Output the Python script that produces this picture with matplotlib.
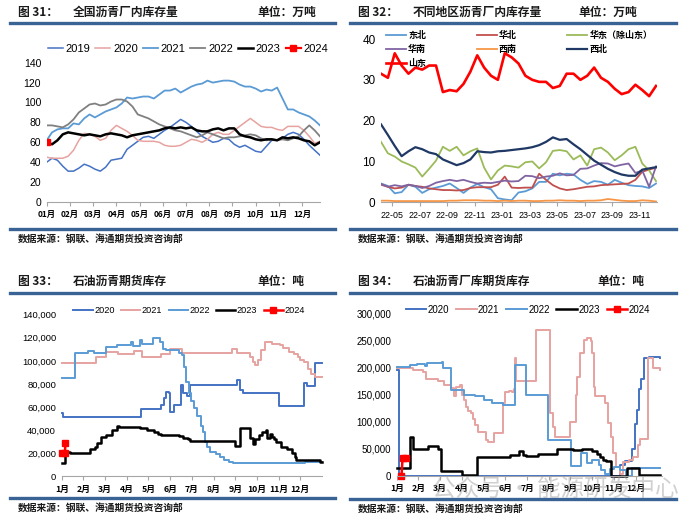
import numpy as np
import matplotlib
matplotlib.use("Agg")
import matplotlib.pyplot as plt
from matplotlib.lines import Line2D
from matplotlib.ticker import FuncFormatter

plt.rcParams['font.family'] = ['Liberation Sans', 'Noto Sans CJK SC']
CJK = ['Noto Sans CJK SC', 'DejaVu Sans']

# ---------------- data ----------------
# fig 31: national plant inventory, 10k t, weekly
months_31 = ['01月', '02月', '03月', '04月', '05月', '06月', '07月', '08月', '09月', '10月', '11月', '12月']
inv_2019 = [40, 44, 42, 36, 31, 31, 34, 38, 36, 33, 31, 35, 42, 43, 44, 53, 57, 61, 65, 66, 64, 68,
            72, 75, 79, 83, 80, 76, 71, 66, 63, 60, 61, 64, 63, 58, 55, 57, 54, 51, 50, 56, 62, 62,
            64, 68, 70, 68, 63, 57, 52, 47]
inv_2020 = [45, 44, 44, 44, 46, 52, 62, 69, 68, 66, 62, 64, 72, 77, 74, 71, 67, 62, 61, 61, 61, 60,
            57, 56, 56, 57, 60, 63, 62, 60, 63, 68, 70, 68, 68, 72, 76, 80, 84, 80, 76, 75, 75, 73,
            72, 76, 76, 76, 72, 66, 59, 61]
inv_2021 = [62, 70, 73, 74, 74, 79, 78, 84, 88, 85, 88, 91, 93, 95, 99, 105, 104, 105, 106, 106, 104, 108,
            112, 112, 114, 110, 113, 116, 118, 119, 122, 120, 121, 122, 122, 121, 118, 116, 116, 114,
            111, 113, 112, 115, 104, 93, 93, 90, 88, 86, 82, 77]
inv_2022 = [77, 77, 76, 75, 78, 83, 90, 94, 98, 99, 97, 98, 101, 103, 103, 101, 96, 88, 86, 84, 81, 78,
            76, 74, 72, 71, 69, 67, 65, 67, 70, 68, 66, 64, 65, 65, 66, 67, 68, 67, 64, 62, 63, 62,
            63, 62, 64, 66, 72, 77, 72, 66]
inv_2023 = [60, 58, 62, 68, 70, 69, 68, 67, 68, 67, 66, 68, 69, 68, 67, 65, 67, 68, 69, 70, 71, 72,
            74, 75, 74, 75, 74, 75, 72, 71, 71, 73, 74, 72, 74, 74, 68, 66, 65, 63, 62, 63, 63, 62,
            65, 64, 65, 64, 62, 61, 57, 60]
inv_2024 = [60]

# fig 32: regional plant inventory, 10k t, half-month steps from 2022-05
dates_32 = ['22-05', '22-07', '22-09', '22-11', '23-01', '23-03', '23-05', '23-07', '23-09', '23-11']
dongbei = [4.6, 4, 2.2, 2.5, 4.3, 3.8, 2.3, 3.2, 3.6, 4, 4.6, 3.5, 2.3, 3.6, 4.5, 3.7, 3.2, 1, 0.7, 0.5,
           2.4, 2.7, 3.4, 5, 5, 7, 6.6, 7, 6.8, 5.5, 4.5, 5.2, 5, 4.3, 5.5, 4.8, 4.2, 4, 3.9, 3.5, 4.6]
huabei = [4.3, 3.8, 3.4, 3.6, 4.3, 4, 3.8, 3.4, 3.2, 3, 3, 2.9, 3, 3.5, 3.7, 3.7, 3.7, 4.3, 6.3, 3.6,
          3.5, 3.6, 3.6, 7, 5.5, 4.2, 3.4, 3, 3.2, 3.5, 3.8, 3.9, 4.2, 4.3, 4.4, 4.5, 4.6, 5.5, 7.5, 8, 8.5]
huadong = [14.8, 12, 11.2, 10, 9.3, 8.5, 6.3, 8.2, 10.2, 13.6, 12.6, 13.6, 11.5, 12.5, 13.2, 8.5, 5.6,
           7.8, 9, 8.8, 8.5, 9.8, 10, 8.3, 9.8, 12.6, 12.8, 12.5, 10.5, 11.5, 9, 13, 13.4, 12.2, 10.3,
           11.5, 13, 13.6, 9.5, 7.8, 5.2]
huanan = [4.5, 3.8, 4.2, 3.9, 4.3, 4, 3.5, 4, 4.8, 5.2, 5.5, 5.2, 5.5, 5, 4.6, 4.8, 4.7, 5, 5.3, 5.1,
          5.2, 6.5, 6.4, 5.9, 6.3, 6.5, 7.1, 6.6, 6.7, 8.2, 8.3, 9, 9.6, 9.5, 8.8, 9.2, 9.5, 7.2, 7.8, 3.8, 8.8]
xinan = [0.4, 0.4, 0.3, 0.3, 0.3, 0.3, 0.3, 0.3, 0.3, 0.3, 0.4, 0.4, 0.5, 0.5, 0.5, 0.4, 0.4, 0.3, 0.4,
         0.3, 0.4, 0.4, 0.3, 0.3, 0.4, 0.4, 0.5, 0.4, 0.4, 0.3, 0.4, 0.4, 0.5, 0.8, 0.6, 0.4, 0.3, 0.3,
         0.5, 0.4, 0.2]
xibei = [19.1, 16.5, 13.8, 11.3, 12.5, 13.5, 13, 12.2, 11.8, 10.5, 9.8, 9.1, 9.6, 10.5, 12.5, 12.3, 12.2,
         12.5, 12.6, 12.8, 13, 13.2, 13.5, 14, 14.8, 15.9, 15.3, 15.5, 14.2, 13, 11.6, 10.2, 9.2, 8.2,
         7.4, 6.8, 6.5, 6.5, 8, 8.3, 8.6]
shandong = [31.5, 30.5, 36.5, 33.5, 31.5, 33, 32.5, 33.5, 33.5, 27, 27.5, 27.2, 29, 32, 36, 33, 31, 30,
            36.5, 35.5, 34, 31, 30, 29.5, 29.5, 28, 28.5, 31.5, 31.5, 30, 31, 33, 30.5, 29.5, 27.8, 26.5,
            27, 28.8, 27.5, 26, 28.5]

# fig 33 / 34: futures stocks, thousand t, (month, value) change points
months_cn = ['1月', '2月', '3月', '4月', '5月', '6月', '7月', '8月', '9月', '10月', '11月', '12月']
fut_2020 = [(0, 55), (0.05, 51.5), (3.67, 58), (4.57, 62), (4.7, 68), (4.8, 73), (4.95, 72), (5.0, 56),
            (5.2, 62), (5.5, 79), (5.6, 72), (5.78, 70), (5.9, 79), (8.1, 83), (8.2, 75), (8.35, 72),
            (10.0, 61), (11.15, 81), (11.3, 78), (11.7, 98.4), (12.0, 98.4)]
fut_2021 = [(0, 98.4), (1.57, 103.5), (2.03, 107.5), (2.6, 106), (3.35, 108.5), (3.7, 103), (4.57, 106),
            (5.0, 110), (5.55, 106.6), (7.83, 110), (8.07, 106.6), (8.68, 103), (8.8, 99), (8.9, 96.4),
            (9.05, 101), (9.2, 109), (9.37, 116.6), (9.7, 115), (10.06, 114), (10.2, 111), (10.5, 108),
            (10.7, 106), (10.9, 103.6), (11.0, 101), (11.15, 99.2), (11.36, 93), (11.5, 89), (11.67, 86),
            (12.0, 86)]
fut_2022 = [(0, 85.4), (0.62, 106.6), (1.23, 108.5), (1.5, 106.6), (2.03, 112.3), (2.57, 114), (3.2, 116),
            (3.3, 113), (3.6, 118), (3.7, 115), (4.2, 120), (4.55, 116), (4.65, 110), (4.8, 109), (5.4, 107),
            (5.55, 105), (5.65, 95), (5.75, 82), (5.85, 72), (5.95, 65), (6.1, 59), (6.25, 52), (6.4, 44),
            (6.5, 38), (6.6, 30), (6.7, 25), (6.85, 21), (7.1, 19), (7.3, 16.5), (7.5, 14), (7.7, 12.5),
            (7.9, 11.3), (11.2, 12), (12.0, 12)]
fut_2023 = [(0, 11.2), (0.15, 21.3), (0.4, 20.5), (1.3, 23.4), (1.55, 25.6), (1.65, 29), (1.8, 33.8),
            (2.05, 36), (2.3, 40), (2.55, 43.6), (2.65, 42.5), (3.6, 42), (3.76, 41.5), (3.95, 40.5),
            (4.1, 40), (4.25, 38.5), (4.45, 36.5), (4.6, 35.8), (5.4, 35), (5.6, 33.5), (5.8, 32.5),
            (5.9, 31), (8.0, 26.2), (8.2, 41.6), (8.68, 32.9), (8.83, 28.4), (8.9, 32), (9.1, 35.8),
            (9.25, 38.7), (9.4, 40), (9.45, 32.9), (9.6, 36.5), (9.7, 34), (9.8, 32), (9.9, 30), (10.1, 25.6),
            (10.4, 24), (10.6, 20), (10.75, 16.5), (10.82, 14.2), (11.9, 12.7), (12.0, 12.7)]
fut_2024 = [(0, 20.3), (0.15, 20.3), (0.17, 29)]

plant_2020 = [(0, 197), (0.1, 0), (10.3, 20), (10.5, 28), (10.85, 50), (10.95, 95), (11.05, 122),
              (11.15, 160), (11.25, 180), (11.4, 218), (11.6, 221), (12.1, 218)]
plant_2021 = [(0, 199), (0.75, 196), (1.2, 193), (1.35, 179), (1.9, 176), (2.2, 168), (2.5, 163),
              (2.62, 147), (2.72, 165), (2.9, 168), (3.0, 150), (3.1, 140), (3.2, 128), (3.3, 120),
              (3.4, 116), (3.5, 105), (3.6, 94), (3.75, 82), (4.1, 66), (4.2, 62), (4.5, 80), (4.88, 134),
              (5.0, 155), (5.15, 158), (5.3, 155), (5.4, 160), (5.45, 218), (5.5, 175), (6.42, 270),
              (7.06, 116), (7.2, 90), (7.3, 72), (8.0, 100), (8.25, 150), (8.3, 184), (8.45, 227),
              (8.6, 252), (8.75, 255), (8.95, 250), (9.0, 227), (9.1, 165), (9.15, 147), (9.6, 134),
              (9.75, 97), (9.85, 72), (9.95, 41.6), (10.1, 16.7), (10.3, 4), (10.4, 25), (10.7, 28.6),
              (10.9, 35), (11.1, 57), (11.2, 68), (11.58, 218), (11.8, 200), (12.1, 197)]
plant_2022 = [(0, 202), (0.6, 205), (0.92, 207), (1.3, 203), (1.4, 209), (2.1, 211), (2.15, 199),
              (2.5, 159), (3.08, 150), (3.6, 147), (4.0, 140), (4.4, 135), (4.9, 131), (5.45, 205),
              (5.95, 150), (6.95, 66), (8.02, 18.6), (8.5, 41.5), (8.75, 23), (9.0, 30), (9.3, 20),
              (9.4, 10), (9.6, 4), (9.8, 13), (10.0, 16.7), (10.3, 10), (10.55, 0), (10.85, 13.7),
              (12.1, 13.7)]
plant_2023 = [(0, 14), (0.62, 72), (0.77, 50), (1.46, 55), (1.92, 50), (2.03, 8), (3.0, 2), (3.7, 34),
              (5.2, 38), (5.65, 45), (5.8, 38), (5.95, 36), (6.5, 40), (7.4, 50), (8.1, 48), (8.55, 50),
              (9.0, 45), (9.2, 40), (9.35, 35), (9.5, 30), (9.65, 28), (9.85, 0), (10.6, 15), (11.15, 2),
              (12.1, 2)]
plant_2024 = [(0.22, 0), (0.27, 32), (0.45, 32)]

# ---------------- layout helpers ----------------
W, H = 700, 528
fig = plt.figure(figsize=(7, 5.28), dpi=100)
BAR = '#3A6395'


def px_axes(x0, y0, x1, y1):
    return fig.add_axes([x0 / W, 1 - y1 / H, (x1 - x0) / W, (y1 - y0) / H])


def hline(x0, x1, y, lw=2.4):
    fig.add_artist(Line2D([x0 / W, x1 / W], [1 - y / H, 1 - y / H], color=BAR, lw=lw))


def ftext(x, y, s, size=8.5, weight='bold', **kw):
    fig.text(x / W, 1 - y / H, s, va='center', family=CJK, fontsize=size, weight=weight,
             color='#1a1a1a', **kw)


def header(x, y, num, title, unit, ux, bar_y, foot_y, x1):
    ftext(x, y, '图 ' + num + '：')
    ftext(x + 55, y, title)
    ftext(ux, y, unit)
    hline(x - 8, x1, bar_y)
    hline(x - 8, x1, foot_y)
    ftext(x, foot_y + 9.5, '数据来源：钢联、海通期货投资咨询部', size=7)


def style(ax):
    for s in ['top', 'right', 'left']:
        ax.spines[s].set_visible(False)
    ax.spines['bottom'].set_color('#A6A6A6')
    ax.tick_params(axis='y', length=0, pad=4)
    ax.tick_params(axis='x', length=3, color='#A6A6A6', pad=3)


def steps(ax, series, **kw):
    xs = [p[0] for p in series]
    ys = [p[1] for p in series]
    ax.step(xs, ys, where='post', clip_on=False, **kw)


header(18, 12.7, '31', '全国沥青厂内库存量', '单位：万吨', 257, 22.7, 229, 335)
header(358, 12.7, '32', '不同地区沥青厂内库存量', '单位：万吨', 578, 22.7, 229, 676)
header(18, 281, '33', '石油沥青期货库存', '单位：吨', 257, 293.3, 498, 335)
header(358, 281, '34', '石油沥青厂库期货库存', '单位：吨', 597, 293.3, 499, 676)

# ---------------- fig 31 ----------------
ax1 = px_axes(46.7, 62.7, 320, 202)
weeks = np.arange(52)
ax1.plot(weeks, inv_2019, color='#4472C4', lw=1.1, label='2019')
ax1.plot(weeks, inv_2020, color='#E6A3A0', lw=1.1, label='2020')
ax1.plot(weeks, inv_2021, color='#5B9BD5', lw=1.3, label='2021')
ax1.plot(weeks, inv_2022, color='#808080', lw=1.3, label='2022')
ax1.plot(weeks, inv_2023, color='black', lw=1.8, label='2023')
ax1.plot(weeks[:1], inv_2024, color='red', lw=1.6, marker='s', ms=4, label='2024')
ax1.set_xlim(0, 51)
ax1.set_ylim(0, 140)
ax1.set_yticks(range(0, 141, 20))
ax1.set_xticks(np.arange(12) * 52 / 12)
ax1.set_xticklabels(months_31, family=CJK, fontsize=6, weight='bold')
ax1.tick_params(axis='y', labelsize=7.5)
style(ax1)
ax1.legend(loc='center', bbox_to_anchor=(188 / W, 1 - 49 / H), bbox_transform=fig.transFigure,
           ncol=6, frameon=False, fontsize=8, handlelength=1.35, handletextpad=0.25,
           columnspacing=0.45, borderpad=0)

# ---------------- fig 32 ----------------
ax2 = px_axes(381, 39, 656.7, 202.3)
t = np.arange(41) * 0.5
h_db, = ax2.plot(t, dongbei, color='#5B9BD5', lw=1.3, label='东北')
h_hb, = ax2.plot(t, huabei, color='#C0504D', lw=1.3, label='华北')
h_hd, = ax2.plot(t, huadong, color='#9BBB59', lw=1.3, label='华东（除山东）')
h_hn, = ax2.plot(t, huanan, color='#8064A2', lw=1.3, label='华南')
h_xn, = ax2.plot(t, xinan, color='#F79646', lw=1.3, label='西南')
h_xb, = ax2.plot(t, xibei, color='#1F3864', lw=1.6, label='西北')
h_sd, = ax2.plot(t, shandong, color='#FF0000', lw=1.9, label='山东')
ax2.set_xlim(0, 20.05)
ax2.set_ylim(0, 40)
ax2.set_yticks(range(0, 41, 10))
ax2.set_xticks(0.82 + 2 * np.arange(10))
ax2.set_xticklabels(dates_32, fontsize=6.4)
ax2.tick_params(axis='y', labelsize=8.5)
style(ax2)
leg2 = ax2.legend([h_db, h_hn, h_sd, h_hb, h_xn, h_hd, h_xb],
                  ['东北', '华南', '山东', '华北', '西南', '华东（除山东）', '西北'],
                  loc='upper left', bbox_to_anchor=(386 / W, 1 - 31 / H), bbox_transform=fig.transFigure,
                  ncol=3, frameon=False, prop={'family': CJK, 'size': 6.5, 'weight': 'bold'},
                  handlelength=2.2, handletextpad=0.25, columnspacing=5.6, labelspacing=0.55,
                  borderpad=0, borderaxespad=0)
leg2.set_zorder(1)

# ---------------- fig 33 ----------------
ax3 = px_axes(61.7, 314.7, 322, 476.3)
steps(ax3, fut_2020, color='#4472C4', lw=1.4, label='2020')
steps(ax3, fut_2021, color='#E6A3A0', lw=1.4, label='2021')
steps(ax3, fut_2022, color='#5B9BD5', lw=1.4, label='2022')
steps(ax3, fut_2023, color='black', lw=1.8, label='2023')
ax3.plot([p[0] for p in fut_2024], [p[1] for p in fut_2024], color='red', lw=1.8,
         marker='s', ms=4, label='2024', clip_on=False)
ax3.set_xlim(0, 12)
ax3.set_ylim(0, 140)
ax3.set_yticks(range(0, 141, 20))
ax3.yaxis.set_major_formatter(FuncFormatter(lambda v, _: f'{int(v * 1000):,}'))
ax3.set_xticks(range(12))
ax3.set_xticklabels(months_cn, family=CJK, fontsize=6.3, weight='bold')
ax3.tick_params(axis='y', labelsize=6.8)
style(ax3)
ax3.legend(loc='center', bbox_to_anchor=(189 / W, 1 - 310.7 / H), bbox_transform=fig.transFigure,
           ncol=5, frameon=False, fontsize=6.6, handlelength=2.1, handletextpad=0.15,
           columnspacing=0.7, borderpad=0)

# ---------------- fig 34 ----------------
ax4 = px_axes(396.7, 314, 661.7, 475.7)
steps(ax4, plant_2020, color='#4472C4', lw=1.4, label='2020')
steps(ax4, plant_2021, color='#E6A3A0', lw=1.4, label='2021')
steps(ax4, plant_2022, color='#5B9BD5', lw=1.4, label='2022')
steps(ax4, plant_2023, color='black', lw=1.8, label='2023')
ax4.plot([p[0] for p in plant_2024], [p[1] for p in plant_2024], color='red', lw=1.8,
         marker='s', ms=4, label='2024', clip_on=False)
ax4.set_xlim(0, 12.2)
ax4.set_ylim(0, 300)
ax4.set_yticks(range(0, 301, 50))
ax4.yaxis.set_major_formatter(FuncFormatter(lambda v, _: f'{int(v * 1000):,}'))
ax4.set_xticks(range(12))
ax4.set_xticklabels(months_cn, family=CJK, fontsize=6.3, weight='bold')
ax4.tick_params(axis='y', labelsize=7)
style(ax4)
ax4.legend(loc='center', bbox_to_anchor=(528 / W, 1 - 309.7 / H), bbox_transform=fig.transFigure,
           ncol=5, frameon=False, fontsize=7, handlelength=2.1, handletextpad=0.15,
           columnspacing=0.7, borderpad=0)

# faint watermark across the bottom of fig 34
fig.text(555 / W, 1 - 489 / H, '公众号 · 能源研发中心', family=CJK, fontsize=17,
         color='#9a9a9a', alpha=0.45, ha='center', va='center', zorder=10)

fig.savefig('out.png', dpi=100)
